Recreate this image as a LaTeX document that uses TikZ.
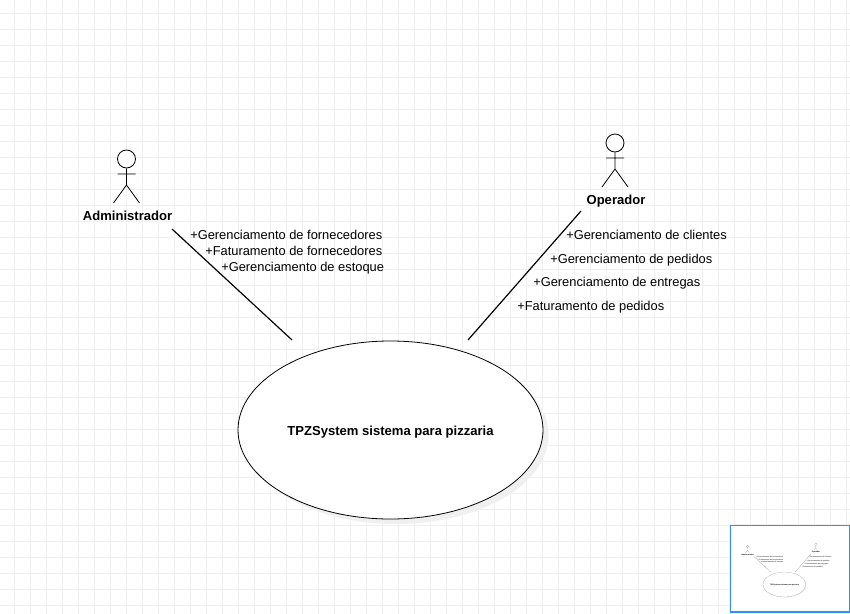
\documentclass[tikz,border=0pt]{standalone}
\usepackage{fontspec}
\setmainfont{Liberation Sans}
\tikzset{
  px/.style={x=0.75pt,y=-0.75pt},
  lbl/.style={anchor=base west,inner sep=0pt,font=\fontsize{9.65pt}{11pt}\selectfont,text=black},
  actorname/.style={anchor=base,inner sep=0pt,font=\fontsize{9.8pt}{11pt}\selectfont\bfseries,text=black},
  gridline/.style={draw=black!6,line width=0.75pt},
  usecase/.style={ellipse,draw=black,fill=white,inner sep=0pt,minimum width=228.75pt,minimum height=133.5pt},
  shade/.style={ellipse,fill=black!6,inner sep=0pt,minimum width=228.75pt,minimum height=133.5pt},
}
\usetikzlibrary{shapes.geometric,calc}
\newcommand{\myactor}[4]{% prefix, x, y of head, line width
  \node[circle,draw=black,fill=white,line width=#4,inner sep=0pt,minimum size=13.5pt] (#1h) at (#2,#3) {};
  \coordinate (#1w) at ($(#2,#3)+(0,26)$);
  \coordinate (#1la) at ($(#2,#3)+(-9,15)$);
  \coordinate (#1ra) at ($(#2,#3)+(9,15)$);
  \coordinate (#1lf) at ($(#2,#3)+(-13,44)$);
  \coordinate (#1rf) at ($(#2,#3)+(13,44)$);
  \draw[line width=#4] (#1h.south) -- (#1w) (#1la) -- (#1ra) (#1w) -- (#1lf) (#1w) -- (#1rf);
}
\newcommand{\mydiagram}[3]{% prefix, thin line width, connector width
  \myactor{#1adm}{126.5}{159}{#2}
  \myactor{#1op}{615}{143}{#2}
  \node[actorname] (#1admn) at (127.5,220) {Administrador};
  \node[actorname] (#1opn) at (616,204) {Operador};
  \node[shade] (#1sh) at (396,435) {};
  \node[usecase,line width=#2] (#1uc) at (390.5,430) {};
  \node[actorname] (#1uct) at (390.5,435) {TPZSystem sistema para pizzaria};
  \coordinate (#1a0) at (172,229);
  \coordinate (#1a1) at (292,340);
  \coordinate (#1b0) at (581,211);
  \coordinate (#1b1) at (468,340);
  \draw[line width=#3] (#1a0) -- (#1a1);
  \draw[line width=#3] (#1b0) -- (#1b1);
  \node[lbl] (#1l1) at (190,239) {+Gerenciamento de fornecedores};
  \node[lbl] (#1l2) at (205,255) {+Faturamento de fornecedores};
  \node[lbl] (#1l3) at (221,271) {+Gerenciamento de estoque};
  \node[lbl] (#1r1) at (566,239) {+Gerenciamento de clientes};
  \node[lbl] (#1r2) at (550,263) {+Gerenciamento de pedidos};
  \node[lbl] (#1r3) at (533,286) {+Gerenciamento de entregas};
  \node[lbl] (#1r4) at (517,310) {+Faturamento de pedidos};
}
\begin{document}
\begin{tikzpicture}[px]
  \useasboundingbox (0,0) rectangle (850,614);
  \fill[white] (0,0) rectangle (850,614);
  \foreach \gx in {14.5,30.5,...,850} \draw[gridline] (\gx,0) -- (\gx,614);
  \foreach \gy in {13.5,29.5,...,614} \draw[gridline] (0,\gy) -- (850,\gy);
  \mydiagram{m}{0.6pt}{0.9pt}
  % overview panel
  \node[draw=black!6,line width=2pt,fill=none,inner sep=0pt,minimum width=91.5pt,minimum height=66pt] (panelshadow) at (791,569.5) {};
  \node[draw=blue!55!cyan!80!white,fill=white,line width=1pt,inner sep=0pt,minimum width=89.5pt,minimum height=65pt] (panel) at (790,568.5) {};
  \begin{scope}[shift={(729.7,524.3)},scale=0.14,transform shape,draw opacity=0.45]
    \mydiagram{o}{0.08pt}{0.14pt}
  \end{scope}
\end{tikzpicture}
\end{document}
